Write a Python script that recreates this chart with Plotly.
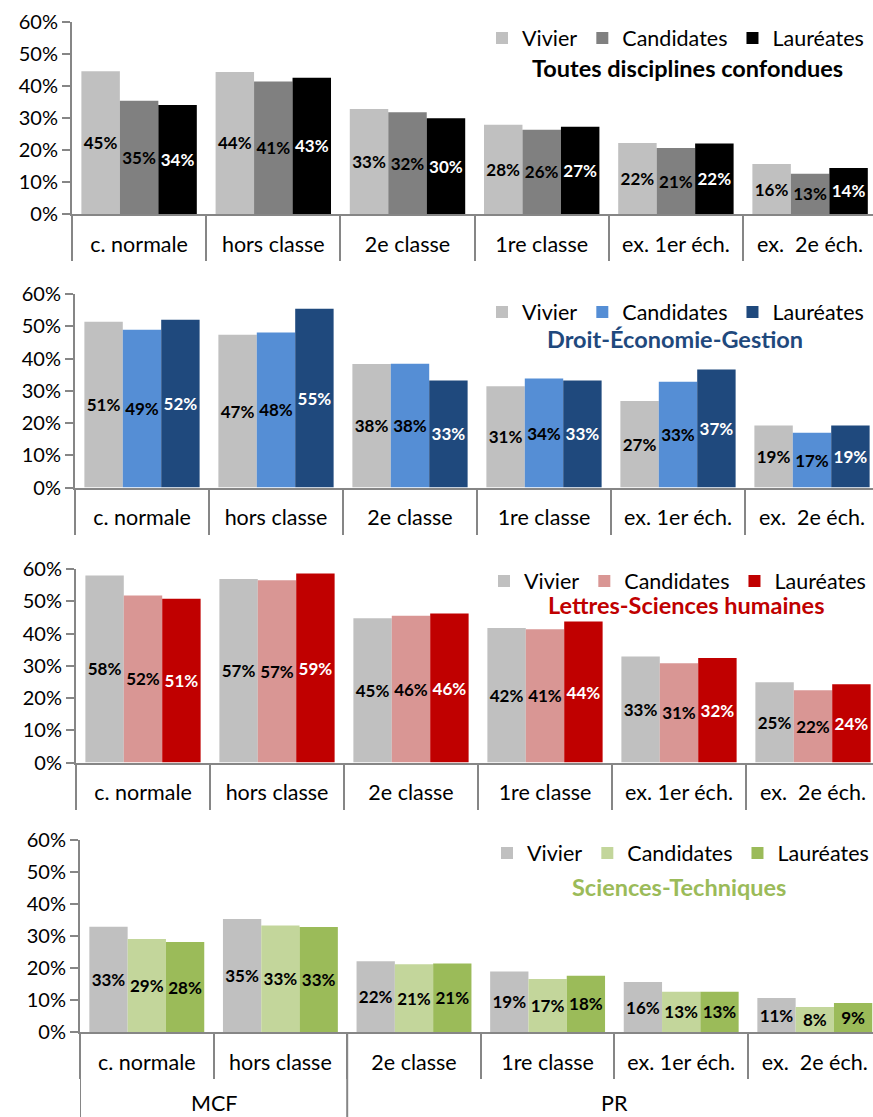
import plotly.graph_objects as go

# ---------------- data ----------------
categories = ["c. normale", "hors classe", "2e classe", "1re classe", "ex. 1er éch.", "ex.\u00a0 2e éch."]
corps = ["MCF", "MCF", "PR", "PR", "PR", "PR"]
series = ["Vivier", "Candidates", "Lauréates"]
panel_titles = ["Toutes disciplines confondues", "Droit-Économie-Gestion",
                "Lettres-Sciences humaines", "Sciences-Techniques"]

toutes_vivier = [44.6, 44.4, 32.8, 27.9, 22.2, 15.6]
toutes_candidates = [35.4, 41.4, 31.8, 26.3, 20.6, 12.6]
toutes_laureates = [34.1, 42.6, 29.9, 27.3, 22.0, 14.4]

deg_vivier = [51.4, 47.4, 38.3, 31.4, 26.8, 19.2]
deg_candidates = [48.9, 48.1, 38.4, 33.8, 32.8, 17.0]
deg_laureates = [52.0, 55.4, 33.2, 33.2, 36.6, 19.2]

lsh_vivier = [58.0, 56.9, 44.7, 41.7, 32.9, 24.9]
lsh_candidates = [51.8, 56.5, 45.5, 41.3, 30.8, 22.4]
lsh_laureates = [50.8, 58.6, 46.2, 43.7, 32.4, 24.3]

st_vivier = [32.9, 35.3, 22.1, 18.9, 15.6, 10.6]
st_candidates = [29.1, 33.3, 21.2, 16.6, 12.6, 7.8]
st_laureates = [28.1, 32.8, 21.4, 17.6, 12.6, 9.1]

y_ticks = [0, 10, 20, 30, 40, 50, 60]
y_tick_labels = ["0%", "10%", "20%", "30%", "40%", "50%", "60%"]

# ---------------- style ----------------
W, H = 873, 1117
FONT = "Lato"
GRAY = "#868686"
panel_values = [
    [toutes_vivier, toutes_candidates, toutes_laureates],
    [deg_vivier, deg_candidates, deg_laureates],
    [lsh_vivier, lsh_candidates, lsh_laureates],
    [st_vivier, st_candidates, st_laureates],
]
panel_colors = [
    ["#C0C0C0", "#808080", "#000000"],
    ["#C0C0C0", "#558ED5", "#1F497D"],
    ["#C0C0C0", "#D99694", "#C00000"],
    ["#C0C0C0", "#C3D69B", "#9BBB59"],
]
label_colors = [
    ["black", "black", "white"],
    ["black", "black", "white"],
    ["black", "black", "white"],
    ["black", "black", "black"],
]
title_colors = ["#000000", "#1F497D", "#C00000", "#9BBB59"]

# pixel geometry of each panel
axis_x0 = [72, 75, 76, 80]
cat_w = [134.2, 134.0, 134.0, 133.6]
y_zero_px = [214, 487.5, 762.5, 1032]
y_top_px = [22, 294, 569, 840]
legend_row_px = [38, 312, 581, 853]
legend_left_px = [482, 482, 484, 487]
title_px = [(687, 68), (675, 339), (686, 605), (679, 887)]
group_label_px = 1103

# group (MCF / PR) spans along the category index
groups = []
for i, c in enumerate(corps):
    if groups and groups[-1][0] == c:
        groups[-1][2] = i
    else:
        groups.append([c, i, i])
group_centers = [(g[1] + g[2]) / 2 for g in groups]
group_names = [g[0] for g in groups]
group_bounds = [g[1] - 0.5 for g in groups] + [groups[-1][2] + 0.5]

fig = go.Figure()
for p in range(4):
    n = "" if p == 0 else str(p + 1)
    for s in range(3):
        fig.add_trace(go.Bar(
            x=categories, y=panel_values[p][s], name=series[s],
            marker=dict(color=panel_colors[p][s], line=dict(width=0)),
            xaxis="x" + n, yaxis="y" + n,
            legend="legend" + n,
            texttemplate="%{y:.0f}%", textposition="inside",
            insidetextanchor="middle", textangle=0, constraintext="none",
            textfont=dict(family=FONT, size=17, color=label_colors[p][s], weight="bold"),
            hoverinfo="skip",
        ))

layout = dict(
    width=W, height=H, margin=dict(l=0, r=0, t=0, b=0, autoexpand=False),
    paper_bgcolor="white", plot_bgcolor="white",
    barmode="group", bargap=0.14, bargroupgap=0,
    font=dict(family=FONT, color="black"),
    showlegend=True,
)

annotations = []
shapes = []
for p in range(4):
    n = "" if p == 0 else str(p + 1)
    x0 = axis_x0[p] / W
    xend = -0.5 + (W - axis_x0[p]) / cat_w[p]
    xa = dict(
        type="category",
        domain=[x0, 1], range=[-0.5, xend], anchor="y" + n, automargin=False,
        tickson="boundaries", ticks="outside", ticklen=45, tickwidth=2,
        tickcolor=GRAY, showline=True, linecolor=GRAY, linewidth=2,
        showgrid=False, tickfont=dict(family=FONT, size=21.5, color="black"),
        ticklabelstandoff=10,
    )
    ya = dict(
        domain=[(H - y_zero_px[p]) / H, (H - y_top_px[p]) / H],
        range=[0, 60], anchor="x" + n, automargin=False,
        tickvals=y_ticks, ticktext=y_tick_labels, ticks="outside", ticklen=8,
        tickwidth=2, tickcolor=GRAY, showline=True, linecolor=GRAY,
        linewidth=2, showgrid=False, zeroline=False,
        tickfont=dict(family=FONT, size=20, color="black"),
    )
    layout["xaxis" + n] = xa
    layout["yaxis" + n] = ya
    layout["legend" + n] = dict(
        orientation="h", x=legend_left_px[p] / W, xanchor="left",
        y=(H - legend_row_px[p]) / H, yanchor="middle",
        font=dict(family=FONT, size=21.5, color="black"),
        bgcolor="rgba(0,0,0,0)", itemclick=False, traceorder="normal",
    )
    tx, ty = title_px[p]
    annotations.append(dict(
        text="<b>" + panel_titles[p] + "</b>", x=tx / W, y=(H - ty) / H,
        xref="paper", yref="paper", xanchor="center", yanchor="middle",
        showarrow=False, font=dict(family=FONT, size=23.5, color=title_colors[p]),
    ))

# second level of the bottom category axis: MCF / PR with long dividers
x4_range = layout["xaxis4"]["range"]
for name, c in zip(group_names, group_centers):
    annotations.append(dict(
        text=name, x=c, xref="x4", y=(H - group_label_px) / H, yref="paper",
        xanchor="center", yanchor="middle", showarrow=False,
        font=dict(family=FONT, size=21.5, color="black"),
    ))
for b in group_bounds:
    if x4_range[0] <= b <= x4_range[1]:
        shapes.append(dict(
            type="line", xref="x4", x0=b, x1=b, yref="paper",
            y0=0, y1=(H - y_zero_px[3]) / H,
            line=dict(color=GRAY, width=2),
        ))
layout["annotations"] = annotations
layout["shapes"] = shapes
fig.update_layout(**layout)
fig.write_html("out.html", config={"displayModeBar": False},
               post_script="document.body.style.margin='0';")
